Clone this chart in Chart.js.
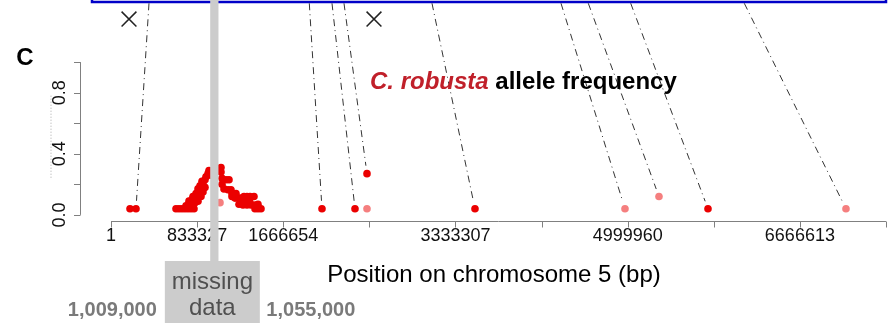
<!DOCTYPE html>
<html>
<head>
<meta charset="utf-8">
<script src="https://cdn.jsdelivr.net/npm/chart.js@4.4.0/dist/chart.umd.min.js"></script>
<style>
  html, body { margin: 0; padding: 0; background: #fff; }
  #wrap { width: 888px; height: 323px; }
</style>
</head>
<body>
<div id="wrap"><canvas id="chart" width="888" height="323"></canvas></div>
<script>
// C. robusta allele frequency along chromosome 5 (positions in bp)
const clusterPos = [
  629000, 658000, 687000, 716100, 745100, 774200, 803200,
  725800, 754800, 783800, 754800, 783800, 812900, 793500, 822500, 841900,
  822500, 851600, 870900, 841900, 870900, 890300, 861300, 890300, 909600,
  880600, 909600, 919300, 938700, 948300, 967700,
  1064500, 1064500, 1074100, 1074100, 1093500, 1112900, 1141900, 1132200, 1161200,
  1170900, 1200000, 1229000, 1258000, 1287000, 1287000, 1316100, 1345100, 1383800,
  1238700, 1277400, 1316100, 1354800, 1393500, 1422500, 1306400, 1345100,
  1393500, 1422500, 1451600, 1170900, 1209600
];
const clusterFreq = [
  0.04, 0.04, 0.04, 0.04, 0.04, 0.04, 0.04,
  0.06, 0.07, 0.06, 0.09, 0.10, 0.08, 0.12, 0.11, 0.09,
  0.14, 0.13, 0.12, 0.17, 0.16, 0.15, 0.19, 0.20, 0.18,
  0.22, 0.23, 0.25, 0.27, 0.29, 0.26,
  0.31, 0.28, 0.24, 0.20, 0.17, 0.23, 0.23, 0.165, 0.165,
  0.12, 0.11, 0.11, 0.11, 0.12, 0.09, 0.12, 0.12, 0.12,
  0.07, 0.065, 0.065, 0.065, 0.065, 0.07, 0.08, 0.08,
  0.04, 0.04, 0.04, 0.14, 0.14
];
const otherPos = [183900, 241900, 2041800, 2361200, 2477300, 3522400, 5777200];
const otherFreq = [0.04, 0.04, 0.04, 0.04, 0.27, 0.04, 0.04];
const lightPos = [1054800, 2477300, 4974000, 5303000, 7112600];
const lightFreq = [0.08, 0.04, 0.04, 0.12, 0.04];

// links from the panel above down to single markers
const linkTopPos = [367700, 1919000, 2138600, 2254700, 3106300, 4354700, 4618900, 5029200, 6128600];
const linkTopLevel = 1.385;
const linkEndPos = [241900, 2041800, 2361200, 2477300, 3522400, 4974000, 5303000, 5777200, 7112600];
const linkEndFreq = [0.04, 0.04, 0.04, 0.27, 0.04, 0.04, 0.12, 0.04, 0.04];

const crossPos = [174200, 2545100];
const crossLevel = [1.282, 1.282];

const xTickValues = [1, 833327, 1666654, 2499980, 3333307, 4166634, 4999960, 5833287, 6666613, 7499940];
const xTickLabels = ['1', '833327', '1666654', '', '3333307', '', '4999960', '', '6666613', ''];
const yTickValues = [0, 0.2, 0.4, 0.6, 0.8, 1.0];
const yTickLabels = ['0.0', '', '0.4', '', '0.8', ''];

const missingBand = [960000, 1040000];
const missingLabels = ['1,009,000', '1,055,000'];

const FONT = '"Liberation Sans", Arial, sans-serif';

const toPoints = (xs, ys) => xs.map((x, i) => ({ x: x, y: ys[i] }));

// draws the R-style axes, texts and links behind the points
const decorations = {
  id: 'decorations',
  beforeDatasetsDraw(chart) {
    const ctx = chart.ctx;
    const xs = chart.scales.x;
    const ys = chart.scales.y;
    const area = chart.chartArea;
    ctx.save();

    // blue frame of the panel above
    ctx.strokeStyle = '#0000c8';
    ctx.lineWidth = 2.5;
    ctx.strokeRect(92, -10, 794, 12);

    // dot-dash links
    ctx.strokeStyle = '#333';
    ctx.lineWidth = 1;
    ctx.setLineDash([7, 4, 1, 4]);
    linkTopPos.forEach((p, i) => {
      const x0 = xs.getPixelForValue(p), y0 = ys.getPixelForValue(linkTopLevel);
      const x1 = xs.getPixelForValue(linkEndPos[i]), y1 = ys.getPixelForValue(linkEndFreq[i]);
      const len = Math.hypot(x1 - x0, y1 - y0);
      const k = (len - 8) / len;
      ctx.beginPath();
      ctx.moveTo(x0, y0);
      ctx.lineTo(x0 + (x1 - x0) * k, y0 + (y1 - y0) * k);
      ctx.stroke();
    });

    // faint dotted line left of the y axis
    ctx.strokeStyle = '#aaa';
    ctx.setLineDash([1, 2]);
    ctx.beginPath();
    ctx.moveTo(area.left - 29, ys.getPixelForValue(0.78));
    ctx.lineTo(area.left - 29, ys.getPixelForValue(0.23));
    ctx.stroke();
    ctx.setLineDash([]);

    // y axis
    ctx.strokeStyle = '#808080';
    ctx.lineWidth = 1;
    const yTop = ys.getPixelForValue(yTickValues[yTickValues.length - 1]);
    const yBot = ys.getPixelForValue(yTickValues[0]);
    ctx.beginPath();
    ctx.moveTo(area.left + 0.5, yTop);
    ctx.lineTo(area.left + 0.5, yBot);
    yTickValues.forEach(v => {
      const y = Math.round(ys.getPixelForValue(v)) + 0.5;
      ctx.moveTo(area.left + 0.5, y);
      ctx.lineTo(area.left - 6, y);
    });
    ctx.stroke();
    ctx.fillStyle = '#111';
    ctx.font = '18px ' + FONT;
    ctx.textAlign = 'center';
    ctx.textBaseline = 'middle';
    yTickValues.forEach((v, i) => {
      if (!yTickLabels[i]) return;
      ctx.save();
      ctx.translate(area.left - 20, ys.getPixelForValue(v));
      ctx.rotate(-Math.PI / 2);
      ctx.fillText(yTickLabels[i], 0, 0);
      ctx.restore();
    });

    // x axis
    const xLeft = xs.getPixelForValue(xTickValues[0]);
    const xRight = xs.getPixelForValue(xTickValues[xTickValues.length - 1]);
    const yAx = Math.round(area.bottom) + 0.5;
    ctx.beginPath();
    ctx.moveTo(xLeft, yAx);
    ctx.lineTo(xRight, yAx);
    xTickValues.forEach(v => {
      const x = Math.round(xs.getPixelForValue(v)) + 0.5;
      ctx.moveTo(x, yAx);
      ctx.lineTo(x, yAx + 6);
    });
    ctx.stroke();
    ctx.textBaseline = 'alphabetic';
    xTickValues.forEach((v, i) => {
      if (!xTickLabels[i]) return;
      ctx.fillText(xTickLabels[i], xs.getPixelForValue(v), 241);
    });

    // axis title
    ctx.font = '24px ' + FONT;
    ctx.fillStyle = '#000';
    ctx.fillText('Position on chromosome 5 (bp)', 494, 282);

    // panel letter
    ctx.font = 'bold 24px ' + FONT;
    ctx.fillText('C', 25, 65);

    // panel title
    ctx.textAlign = 'left';
    ctx.font = 'italic bold 24px ' + FONT;
    ctx.fillStyle = '#c0202a';
    const part1 = 'C. robusta';
    ctx.fillText(part1, 370, 89);
    const w1 = ctx.measureText(part1).width;
    ctx.font = 'bold 24px ' + FONT;
    ctx.fillStyle = '#000';
    ctx.fillText(' allele frequency', 370 + w1, 89);

    ctx.restore();
  },
  // missing data band is drawn over the points
  afterDatasetsDraw(chart) {
    const ctx = chart.ctx;
    const xs = chart.scales.x;
    ctx.save();
    const bx0 = xs.getPixelForValue(missingBand[0]);
    const bx1 = xs.getPixelForValue(missingBand[1]);
    const mid = (bx0 + bx1) / 2 - 2;
    ctx.fillStyle = '#cccccc';
    ctx.fillRect(bx0, 0, bx1 - bx0, 262);
    ctx.fillRect(mid - 47.5, 261, 95, 62);

    ctx.fillStyle = '#505050';
    ctx.font = '24px ' + FONT;
    ctx.textAlign = 'center';
    ctx.textBaseline = 'alphabetic';
    ctx.fillText('missing', mid, 289);
    ctx.fillText('data', mid, 315);

    ctx.fillStyle = '#7a7a7a';
    ctx.font = 'bold 20px ' + FONT;
    ctx.textAlign = 'right';
    ctx.fillText(missingLabels[0], mid - 55.5, 316);
    ctx.textAlign = 'left';
    ctx.fillText(missingLabels[1], mid + 54, 316);
    ctx.restore();
  }
};

new Chart(document.getElementById('chart'), {
  type: 'scatter',
  data: {
    datasets: [
      {
        label: 'allele frequency',
        data: toPoints(clusterPos, clusterFreq).concat(toPoints(otherPos, otherFreq)),
        backgroundColor: 'rgb(235, 0, 0)',
        borderWidth: 0,
        pointRadius: 3.8,
        clip: false
      },
      {
        label: 'low coverage',
        data: toPoints(lightPos, lightFreq),
        backgroundColor: 'rgba(235, 0, 0, 0.5)',
        borderWidth: 0,
        pointRadius: 3.8,
        clip: false
      },
      {
        label: 'excluded',
        data: toPoints(crossPos, crossLevel),
        pointStyle: 'crossRot',
        pointRadius: 10.5,
        borderColor: '#222',
        borderWidth: 1.5,
        clip: false
      }
    ]
  },
  options: {
    responsive: false,
    animation: false,
    events: [],
    layout: { autoPadding: false, padding: { left: 80, right: 0, top: 0, bottom: 102 } },
    plugins: {
      legend: { display: false },
      tooltip: { enabled: false }
    },
    scales: {
      x: { type: 'linear', display: false, min: -299997, max: 7519300 },
      y: { type: 'linear', display: false, min: -0.04, max: 1.4065 }
    }
  },
  plugins: [decorations]
});
</script>
</body>
</html>
